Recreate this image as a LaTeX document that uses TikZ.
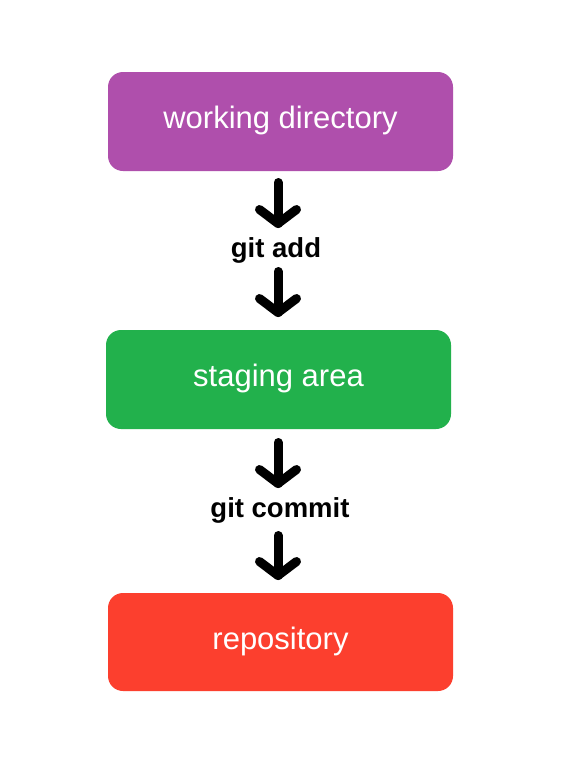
\documentclass[tikz,border=0pt]{standalone}
\usepackage{fontspec}
\setmainfont{Liberation Sans}
\begin{document}
\begin{tikzpicture}[x=1pt,y=-1pt,
  box/.style={rectangle, rounded corners=15pt, minimum width=345pt, minimum height=99pt,
    inner sep=0pt, text=white, font=\fontsize{31}{36}\selectfont, text height=22pt, text depth=8pt},
  cmd/.style={anchor=base, inner sep=0pt, font=\fontsize{27.5}{32}\selectfont\bfseries},
  fat/.style={line width=9pt, line cap=round, line join=round}]
\definecolor{wdpurple}{RGB}{175,79,172}
\definecolor{sagreen}{RGB}{34,177,76}
\definecolor{repored}{RGB}{252,63,46}
\useasboundingbox (0,0) rectangle (572,772);
\fill[white] (0,0) rectangle (572,772);

\node[box, fill=wdpurple] (wd) at (280.5,121.5) {working directory};
\node[box, fill=sagreen] (sa) at (278.5,379.5) {staging area};
\node[box, fill=repored, minimum height=98pt] (repo) at (280.5,642) {repository};

\node[cmd] (add) at (276,257) {git add};
\node[cmd] (commit) at (280,517) {git commit};

\coordinate (a1s) at (278,182.5); \coordinate (a1t) at (278,223.5);
\coordinate (a2s) at (278,271.5); \coordinate (a2t) at (278,312.5);
\coordinate (a3s) at (278,442.5); \coordinate (a3t) at (278,483.5);
\coordinate (a4s) at (278,535.5); \coordinate (a4t) at (278,575.5);

\foreach \s/\t in {a1s/a1t,a2s/a2t,a3s/a3t,a4s/a4t}{
  \draw[fat] (\s) -- (\t);
  \draw[fat] ([shift={(-18.5,-14)}]\t) -- (\t) -- ([shift={(18.5,-14)}]\t);
}
\end{tikzpicture}
\end{document}
